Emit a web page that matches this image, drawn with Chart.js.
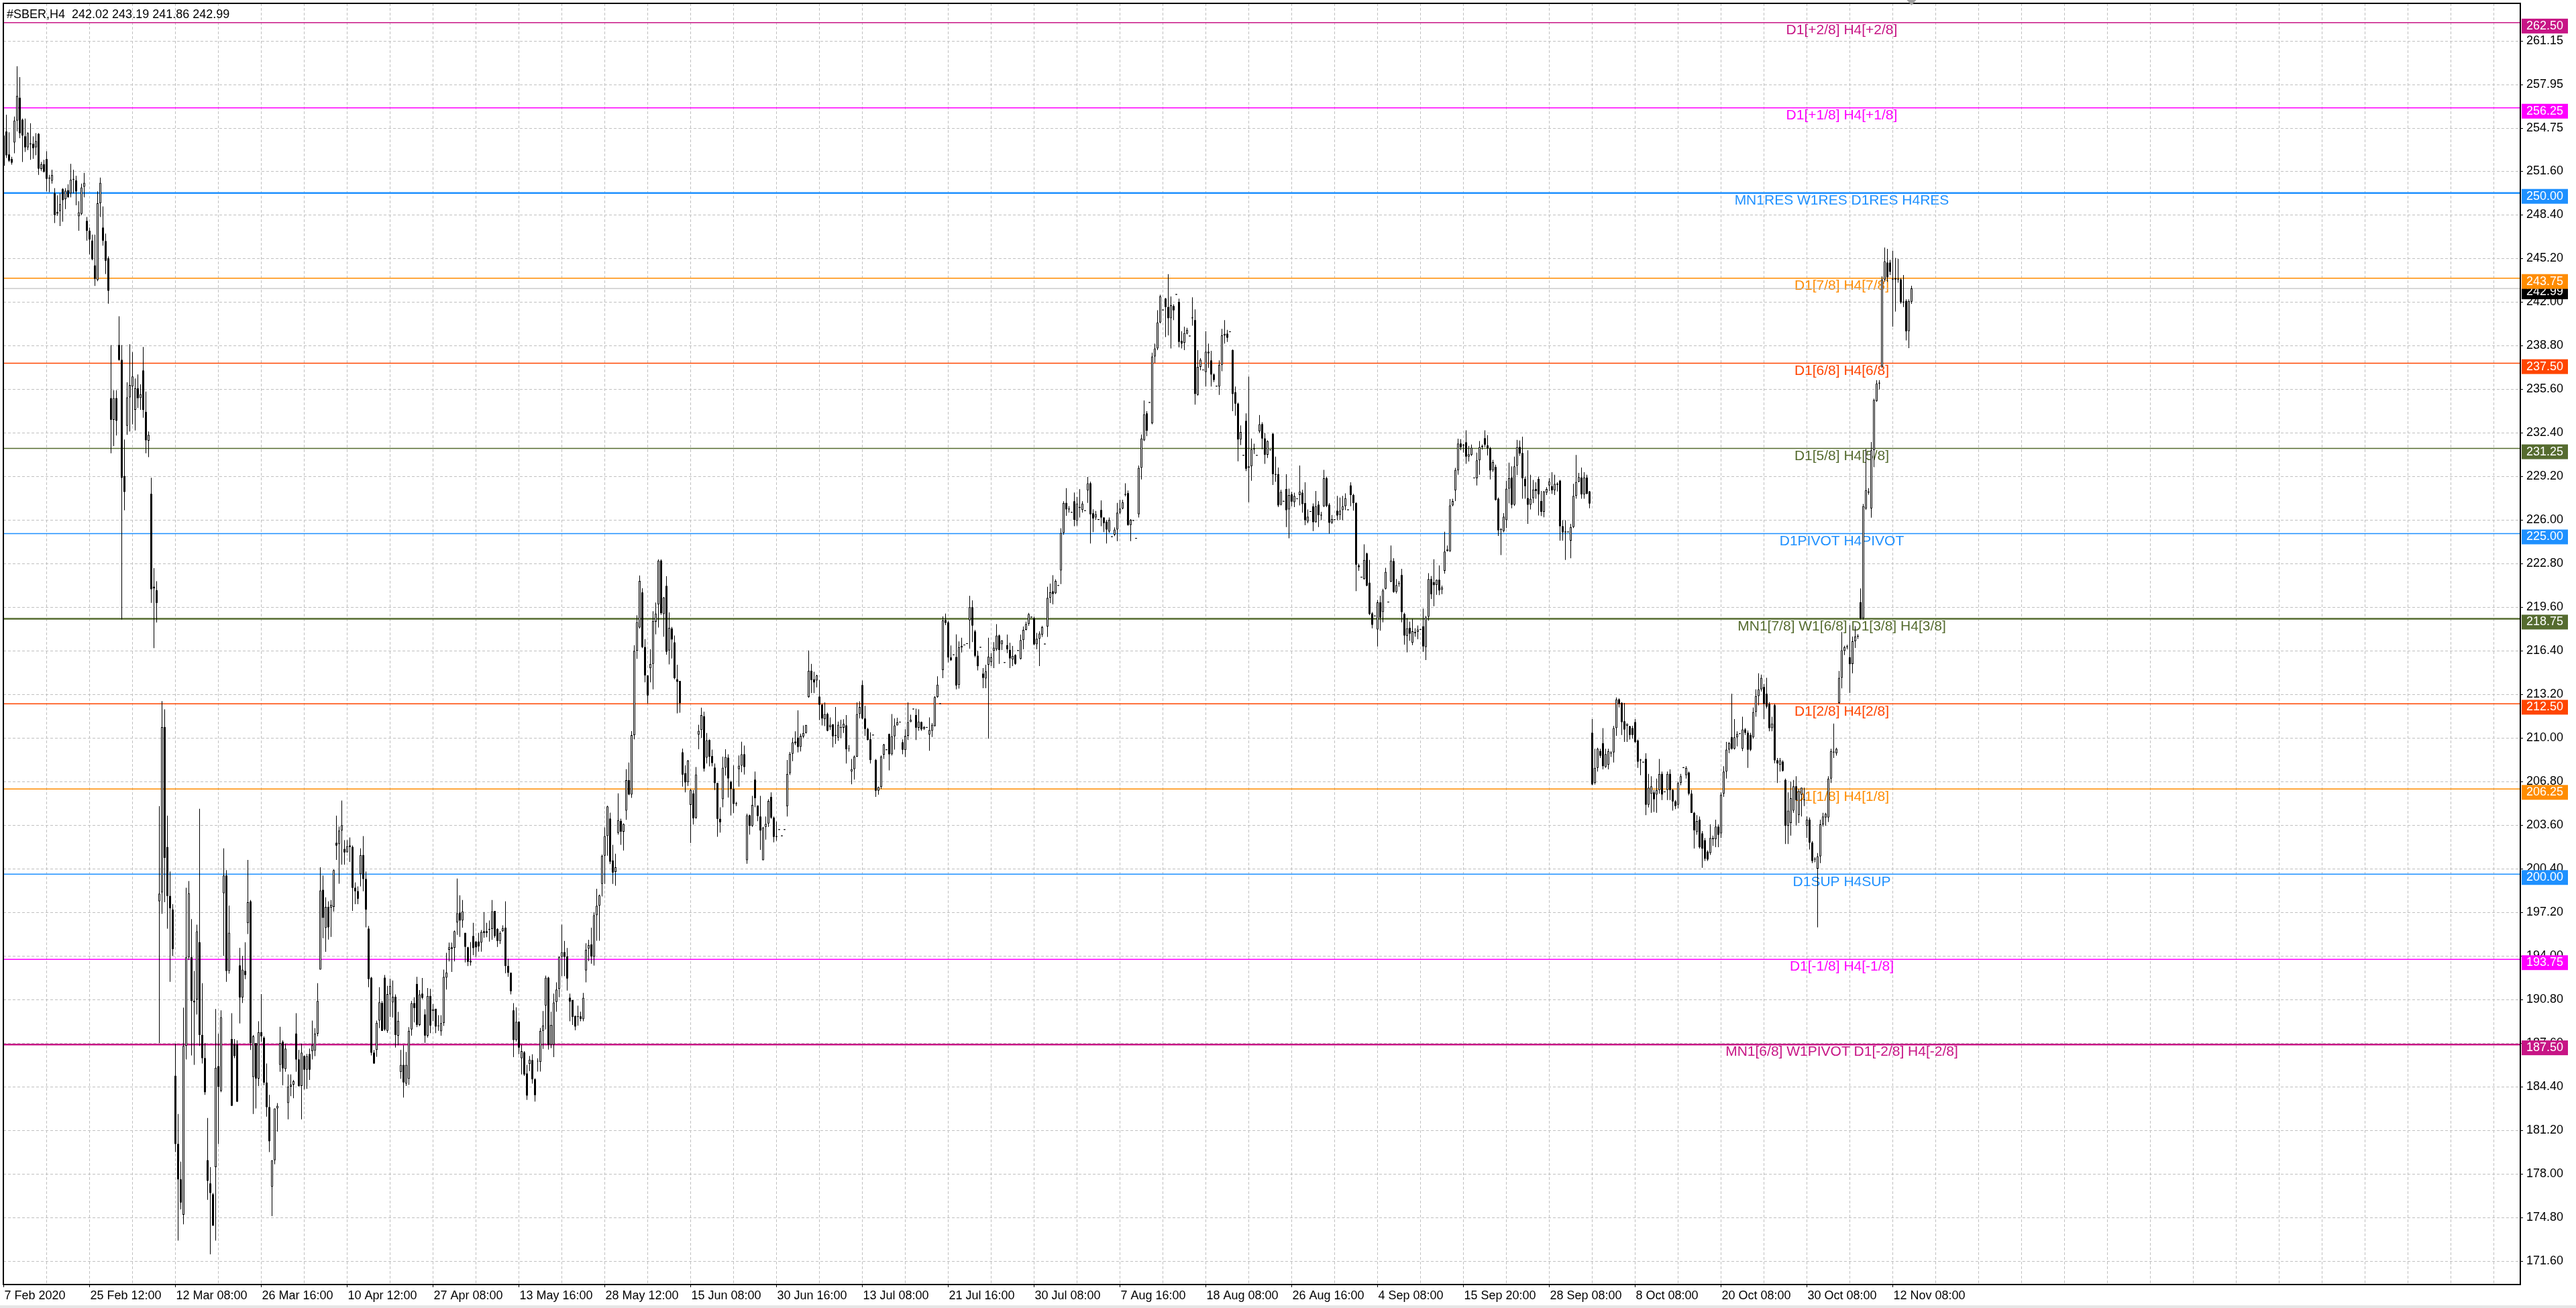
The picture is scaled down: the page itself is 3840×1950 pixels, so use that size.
<!DOCTYPE html>
<html>
<head>
<meta charset="utf-8">
<title>#SBER,H4</title>
<script src="https://cdn.jsdelivr.net/npm/chart.js@4.4.1/dist/chart.umd.min.js"></script>
<style>
html,body{margin:0;padding:0;background:#fff;overflow:hidden;}
canvas{display:block;}
</style>
</head>
<body>
<canvas id="grafica" width="3840" height="1950"></canvas>
<script>

/* DATOS */

const simbolo="#SBER,H4"

const opens=[
251.99,254.51,252.83,252.49,253.70,255.32,256.99,255.38,254.16,253.35,
253.58,253.61,253.35,254.34,251.76,252.11,252.49,251.07,250.90,249.97,
248.47,248.67,250.29,249.54,250.20,249.97,250.98,250.92,248.29,248.47,
250.46,247.95,247.23,246.50,244.68,243.61,249.25,247.46,246.47,245.20,
234.94,233.35,234.94,238.84,237.75,229.22,232.92,235.00,235.81,234.08,
235.66,234.94,236.97,233.93,231.82,227.92,221.10,220.84,198.00,198.66,
210.80,201.99,198.40,197.40,185.20,180.20,177.60,175.00,187.40,193.90,
193.90,190.70,190.80,195.00,188.20,186.50,179.00,177.30,176.50,178.50,
185.90,184.10,198.60,199.90,192.90,187.90,187.50,187.50,193.30,190.95,
192.90,196.40,198.00,185.10,187.60,185.00,188.40,188.00,184.70,182.90,
177.05,179.00,182.80,186.00,187.70,185.70,183.20,184.40,184.55,188.30,
186.40,184.45,186.65,185.65,186.80,187.00,187.05,188.30,193.00,198.85,
196.05,197.60,197.55,197.60,202.30,202.20,203.20,201.85,201.60,202.10,
202.00,199.00,198.75,200.00,201.40,199.65,196.00,192.40,186.90,187.10,
189.25,190.55,192.40,188.50,191.18,190.58,191.00,188.15,185.47,186.00,
184.63,184.98,188.60,190.53,191.94,188.94,191.23,189.70,188.15,191.06,
189.95,190.12,188.85,188.47,189.07,192.40,194.45,194.63,194.58,196.46,
197.17,196.60,195.69,194.63,193.52,195.46,195.05,195.05,194.98,195.81,
195.81,195.93,195.98,197.30,195.98,195.10,195.81,196.07,193.26,192.77,
190.00,187.83,189.17,186.48,186.92,185.37,186.07,186.35,184.95,186.25,
186.21,188.50,190.35,192.40,187.48,187.48,190.62,191.58,193.93,194.28,
193.96,190.93,190.76,189.60,189.56,189.56,189.35,192.94,194.52,194.84,
193.96,196.99,197.69,199.28,201.36,202.80,204.08,201.00,200.16,203.03,
203.91,203.12,204.67,206.90,205.85,210.20,216.40,218.11,220.68,216.67,
214.59,215.12,215.44,218.53,219.80,223.02,219.09,221.16,216.42,218.03,
217.01,214.30,214.18,208.94,207.41,206.74,205.08,205.92,204.15,210.24,
210.58,211.59,208.55,209.85,208.67,207.82,206.69,204.06,205.50,207.82,
208.55,206.77,206.26,205.16,207.70,207.96,208.80,201.02,204.32,203.55,
206.94,205.04,204.23,201.02,203.47,203.72,205.67,204.15,202.79,203.25,
202.79,203.25,204.99,207.41,208.84,209.73,210.02,209.34,210.10,210.36,
213.00,214.93,214.30,214.22,213.03,212.44,211.37,211.76,210.80,211.00,
210.16,210.02,210.75,210.75,210.92,209.20,207.53,207.70,208.63,211.76,
213.88,211.43,210.66,209.90,210.19,208.38,206.13,206.40,208.77,209.11,
210.29,208.80,210.12,210.92,211.14,209.68,209.11,210.16,211.17,212.10,
211.68,210.75,211.17,210.66,210.75,210.24,210.53,210.87,213.00,212.49,
214.98,218.65,218.48,215.91,216.08,215.94,213.88,216.63,216.80,216.90,
218.63,219.59,217.82,216.03,216.63,214.72,214.36,215.37,215.56,216.39,
216.51,217.52,216.87,215.51,216.80,216.46,215.75,216.08,216.39,215.80,
217.18,217.94,218.37,218.85,218.78,216.87,217.28,217.59,216.87,218.18,
220.28,220.76,220.62,221.17,222.29,225.05,227.25,226.78,226.54,227.37,
225.94,226.90,226.73,226.66,228.16,228.69,226.49,226.18,226.01,226.73,
226.18,225.87,225.15,224.75,224.92,225.30,226.54,226.83,227.85,227.97,
225.63,225.94,224.63,226.42,229.83,231.84,233.82,234.60,233.10,238.00,
238.59,240.50,241.39,242.25,241.63,240.81,241.70,242.53,242.01,239.14,
239.00,239.67,239.48,240.81,240.67,235.18,237.23,236.99,236.85,238.23,
237.71,236.68,235.80,235.80,237.40,239.55,239.67,239.79,238.47,235.37,
234.54,231.91,230.72,233.27,229.83,229.93,231.19,230.72,232.51,233.03,
231.98,230.79,231.12,232.32,229.36,229.36,227.12,227.35,228.27,226.77,
227.88,227.30,227.53,227.83,228.00,227.24,225.89,226.60,227.00,225.84,
227.12,226.33,227.00,229.06,227.12,225.80,226.00,226.68,226.36,226.72,
227.00,226.72,228.53,227.83,227.24,222.66,221.78,221.66,223.54,221.39,
219.14,218.93,217.96,219.95,219.24,220.95,219.95,221.48,222.98,220.72,
221.31,221.96,219.10,217.48,218.08,216.99,217.78,217.78,217.94,218.19,
216.67,218.89,221.66,221.43,221.22,221.61,220.86,222.27,223.72,223.72,
227.07,228.18,229.64,231.61,231.47,231.70,230.65,230.77,229.06,229.06,
230.38,231.35,232.00,231.47,231.26,229.64,229.89,227.56,225.27,225.18,
225.98,228.30,229.11,227.12,229.99,231.35,230.91,229.01,227.60,227.12,
227.60,228.27,229.01,227.39,226.60,228.00,228.53,228.48,228.18,228.66,
228.88,225.54,225.10,225.10,224.48,225.48,227.77,228.79,229.11,227.88,
229.11,228.09,210.38,206.69,207.80,209.04,209.61,207.86,208.03,208.87,
208.94,210.72,212.83,212.57,211.22,210.89,210.86,210.72,211.16,209.81,
208.36,208.20,208.46,205.10,205.90,206.00,205.85,206.18,207.36,206.02,
206.18,207.36,206.18,205.34,205.10,206.69,207.80,207.26,207.46,205.91,
204.50,203.09,204.00,202.99,202.49,201.65,201.55,202.56,202.56,203.49,
202.99,205.91,207.53,209.14,210.05,209.21,210.05,210.29,209.21,210.62,
210.38,210.22,210.05,211.90,213.07,213.57,213.74,213.24,212.50,210.72,
212.40,208.36,208.03,208.26,206.92,203.56,203.76,204.67,206.45,204.33,
205.84,205.44,203.56,204.00,202.32,201.08,200.40,201.31,203.66,204.16,
204.16,207.02,208.94,208.87,212.57,214.41,216.38,216.67,215.92,215.42,
217.10,217.44,219.96,218.78,226.85,228.02,226.85,231.12,234.74,236.02,
237.27,243.65,244.89,244.89,243.65,243.65,243.65,243.65,241.97,242.07,
239.85,242.02
]

const highs=[
254.45,255.75,254.45,252.66,255.61,259.31,258.50,255.46,255.46,254.45,
255.12,254.16,254.39,254.39,252.28,252.43,253.06,251.33,251.71,250.35,
249.83,249.97,250.35,250.35,250.64,252.14,251.71,251.27,249.39,250.69,
251.47,248.24,247.46,246.94,246.94,250.12,251.13,249.02,247.02,245.35,
238.84,235.52,235.52,240.95,238.84,231.91,236.10,238.90,238.32,236.39,
236.68,235.95,238.70,235.43,232.49,229.10,222.46,221.50,205.00,212.70,
212.10,204.30,200.20,197.80,187.56,182.40,178.90,190.20,199.00,199.50,
196.70,192.90,196.30,204.80,192.00,187.60,182.10,178.50,176.60,190.10,
188.30,190.00,201.90,200.30,197.70,189.80,187.90,187.80,194.60,194.00,
195.00,201.05,198.10,188.20,187.60,189.20,191.20,188.10,186.10,183.80,
179.00,182.80,183.20,188.80,187.80,187.55,185.30,185.30,184.90,189.80,
187.10,187.55,186.70,186.80,187.20,189.25,188.70,192.00,200.50,199.90,
198.30,198.00,198.10,200.35,204.30,203.50,205.40,202.50,202.50,202.70,
202.10,199.40,199.10,201.90,202.80,200.20,196.20,192.45,187.10,189.25,
191.70,190.70,192.60,191.80,192.33,192.20,191.18,189.90,187.10,187.45,
186.95,188.77,190.70,190.97,192.47,191.50,192.38,190.09,191.64,191.58,
190.47,190.12,189.65,189.65,193.00,194.23,194.98,194.98,195.86,199.68,
198.45,198.10,195.69,194.67,195.02,196.43,195.10,195.69,195.90,197.22,
196.43,196.60,198.10,197.30,196.04,195.81,196.25,198.01,193.78,192.77,
190.53,190.23,189.21,187.48,187.01,186.00,186.66,186.78,185.02,186.48,
188.71,189.95,192.55,192.47,189.91,191.23,192.06,193.96,196.29,195.10,
194.58,191.23,190.76,189.60,190.35,189.91,191.28,194.93,195.19,196.07,
197.22,198.93,198.50,201.44,203.43,205.02,204.52,202.15,201.50,205.93,
204.08,203.73,207.70,208.20,210.50,216.80,219.00,221.92,220.99,217.26,
214.59,216.50,219.30,219.94,223.10,223.10,220.35,221.87,219.21,218.14,
217.52,215.37,214.18,209.22,207.99,208.38,206.26,206.18,207.87,210.97,
212.22,211.93,210.36,209.90,209.14,208.12,206.69,204.91,208.63,209.17,
208.80,206.86,207.99,205.30,208.72,209.73,209.44,204.44,204.37,205.75,
207.53,205.04,205.75,203.47,204.23,205.50,206.01,204.23,203.86,203.25,
202.79,203.25,208.38,208.97,210.02,210.49,212.02,210.32,210.92,210.95,
216.42,215.44,214.86,214.64,214.25,212.49,212.61,211.85,211.51,211.00,
212.27,211.20,211.34,211.37,211.68,209.48,208.46,208.72,212.61,212.69,
214.22,212.36,210.75,210.41,210.19,208.46,206.43,208.72,209.56,209.11,
210.32,211.76,211.43,211.48,211.14,209.90,210.63,212.61,211.71,212.10,
212.15,212.10,211.20,210.87,210.75,211.51,211.09,213.07,214.52,212.49,
218.92,219.13,218.59,216.79,216.08,217.60,217.09,217.35,216.80,216.90,
220.43,220.10,217.94,216.39,216.63,215.13,215.37,217.35,216.22,217.04,
218.35,217.59,217.18,215.51,217.59,216.99,216.75,216.15,216.39,217.59,
218.18,218.54,219.18,218.85,218.90,217.71,217.82,218.23,216.87,221.10,
221.33,221.95,221.64,221.17,225.39,227.37,228.33,227.02,226.54,228.02,
227.68,228.26,227.37,226.66,229.16,228.81,226.78,226.66,226.01,227.44,
226.18,226.01,226.18,224.75,225.46,227.25,227.49,227.49,228.69,228.16,
226.06,225.94,224.63,230.00,232.27,234.77,233.99,234.60,238.28,238.95,
241.39,242.53,241.39,242.29,244.04,242.41,241.82,242.53,242.25,239.86,
240.19,240.10,239.48,242.34,241.46,238.47,237.88,236.99,239.86,238.95,
238.42,236.75,235.80,237.71,240.03,240.67,239.96,239.79,238.52,235.80,
234.61,232.94,230.72,233.82,236.52,231.98,231.60,230.72,233.70,233.17,
232.39,231.84,231.12,232.39,230.65,229.85,228.23,227.35,229.36,228.30,
228.06,228.00,227.53,230.00,228.23,228.76,226.77,226.60,227.21,228.13,
227.39,226.60,229.68,229.18,227.24,226.36,226.00,227.77,227.65,227.77,
227.95,226.72,228.76,227.92,227.30,222.80,221.78,224.21,223.60,223.07,
219.24,218.93,220.13,220.43,220.95,222.49,219.95,224.13,223.19,221.66,
221.52,222.42,219.19,218.79,218.54,218.75,218.05,218.26,217.94,219.50,
218.96,222.10,221.89,223.12,221.61,222.66,221.18,225.13,224.13,227.53,
227.56,229.82,231.97,231.93,231.58,232.58,231.44,231.53,229.06,230.95,
231.79,231.53,232.58,232.23,231.35,230.42,230.06,227.65,225.41,226.50,
228.88,230.20,229.94,230.65,231.88,231.83,232.11,229.18,231.12,229.32,
228.94,228.76,229.18,228.13,228.13,228.41,229.06,229.50,229.32,228.76,
228.94,225.98,225.98,225.10,225.71,228.65,230.77,229.46,229.85,229.50,
229.32,228.13,211.39,209.21,209.28,209.21,210.72,209.21,209.21,209.04,
210.88,212.97,212.90,212.63,212.57,211.05,210.89,210.89,211.39,209.88,
208.46,208.20,208.87,207.36,207.19,206.18,207.02,208.46,207.53,206.02,
207.53,207.69,206.25,205.44,206.79,207.36,207.80,207.93,207.53,206.18,
204.57,204.33,204.23,203.16,202.66,201.75,203.66,202.83,204.00,203.66,
206.01,207.93,209.71,209.71,213.24,211.39,210.49,210.29,211.56,210.72,
210.55,210.38,212.23,213.57,214.75,214.65,213.97,214.41,212.63,211.56,
212.50,208.53,208.53,208.36,207.02,206.01,206.79,206.92,207.19,206.25,
206.35,206.35,204.23,204.16,202.42,201.24,201.55,204.00,204.50,204.50,
207.19,209.21,211.05,209.28,214.92,217.78,216.77,216.84,218.28,217.44,
218.21,217.61,220.97,227.18,231.22,228.33,231.72,234.91,236.26,236.26,
243.88,246.00,245.90,245.09,245.77,245.23,245.16,243.75,243.98,242.20,
242.20,243.19
]

const lows=[
251.91,252.57,252.28,252.08,252.92,254.51,254.02,252.28,253.01,253.15,
252.43,252.51,252.77,251.33,251.62,251.50,250.12,250.06,250.69,247.80,
248.32,247.57,247.89,248.82,249.68,249.68,249.97,249.10,247.23,248.38,
249.68,246.50,245.49,245.06,243.18,243.53,248.24,246.13,244.05,241.88,
230.90,231.42,232.20,237.69,218.70,226.71,232.25,232.49,233.01,232.57,
234.22,234.08,233.50,230.90,230.61,219.91,216.59,218.47,187.60,197.10,
197.95,196.00,192.10,194.00,179.60,173.10,175.40,174.30,186.40,193.70,
186.70,186.00,189.70,187.40,186.10,183.80,176.10,172.10,174.20,173.10,
180.20,184.00,194.00,192.10,192.70,183.00,186.50,183.30,189.05,190.55,
192.30,195.60,187.10,182.40,182.80,184.45,187.70,184.50,182.20,179.60,
174.90,178.70,181.10,185.50,184.50,185.50,182.00,183.70,183.55,185.50,
184.40,182.00,184.20,184.25,184.90,186.40,186.65,188.10,193.00,195.30,
194.30,195.20,195.40,197.25,201.05,199.30,200.70,200.70,201.60,200.90,
197.30,197.80,197.80,199.10,198.75,196.10,191.70,186.70,186.10,186.60,
188.70,188.50,188.50,188.35,189.52,189.47,187.27,187.45,184.98,183.60,
184.45,184.54,188.15,189.12,188.77,188.85,190.83,187.62,188.01,188.33,
189.20,188.33,188.50,188.15,188.86,191.53,193.60,192.82,193.60,195.55,
195.40,196.07,193.52,193.26,193.29,194.05,193.93,194.31,194.31,195.33,
195.37,195.05,195.19,195.33,194.66,194.88,195.76,192.73,192.47,191.18,
186.57,187.71,186.78,185.30,185.19,183.43,185.55,184.63,183.31,185.51,
185.51,187.18,188.60,187.13,187.23,186.57,189.91,190.97,192.52,192.52,
191.46,189.21,188.94,188.54,188.89,189.21,189.21,192.06,193.61,193.43,
193.29,195.11,195.11,198.36,199.28,201.36,200.74,199.28,199.15,202.90,
202.15,201.74,203.99,205.80,205.60,209.90,215.80,218.03,216.59,214.08,
212.53,214.08,213.57,217.60,218.11,219.04,217.43,216.11,215.40,215.83,
214.30,211.81,211.85,206.43,206.01,206.47,202.29,203.64,204.06,209.17,
209.99,207.53,208.12,207.92,207.92,206.18,202.74,203.05,204.91,207.24,
205.62,204.31,204.49,205.00,206.43,207.48,207.31,200.76,202.91,203.47,
204.91,203.89,201.78,201.02,202.54,203.47,204.06,202.34,202.45,203.25,
202.79,203.25,204.23,207.28,208.29,209.48,208.94,209.01,209.99,210.33,
212.95,213.29,213.29,213.71,211.31,210.92,210.87,210.49,210.58,209.31,
209.56,209.78,209.99,210.36,208.12,209.00,206.60,206.94,208.60,211.43,
211.37,210.16,209.82,208.12,210.19,205.67,205.84,206.26,208.46,209.11,
207.62,208.72,209.14,210.92,211.14,208.80,208.60,209.85,211.17,212.10,
209.85,210.53,210.53,210.58,210.75,209.06,210.07,210.83,212.95,212.49,
214.39,218.28,215.54,215.66,216.08,213.57,213.63,216.27,216.80,216.90,
216.56,217.04,215.91,214.96,216.63,213.65,213.65,209.95,215.27,215.13,
216.39,215.44,216.46,215.51,216.22,215.13,215.27,215.37,216.39,215.75,
216.51,217.90,218.23,218.85,216.80,216.51,215.27,217.42,216.87,217.42,
219.90,219.81,220.57,221.17,221.29,224.91,226.30,226.54,226.54,225.54,
225.58,226.18,226.54,226.66,227.25,224.27,225.11,226.01,226.01,225.54,
225.11,224.27,225.06,224.75,224.82,224.44,226.42,226.78,227.73,225.58,
224.44,225.94,224.63,226.18,228.97,231.79,232.15,234.60,233.03,237.52,
238.47,240.43,241.39,239.43,239.55,238.59,240.67,242.53,238.67,238.59,
238.47,239.62,239.48,240.26,234.46,235.13,236.99,236.99,235.80,237.16,
235.80,236.13,235.80,235.18,236.92,238.95,239.07,239.79,233.99,233.65,
230.31,231.50,230.72,229.59,227.30,228.88,230.84,230.72,232.39,231.19,
230.12,230.55,231.12,228.57,228.80,226.94,227.07,227.35,225.48,224.65,
227.00,226.94,227.53,227.07,226.54,225.62,225.76,226.60,225.18,225.80,
225.48,225.98,226.94,226.94,225.00,225.71,226.00,225.98,226.01,225.98,
226.72,226.72,227.00,226.68,220.78,222.27,221.78,221.61,221.13,219.02,
218.05,218.93,216.72,217.87,218.49,220.90,219.95,221.43,220.65,220.60,
221.10,218.49,216.85,216.28,217.13,216.81,217.43,217.25,217.94,216.32,
215.72,218.61,220.20,219.67,220.51,220.48,220.55,222.06,223.68,223.65,
227.00,227.39,229.32,231.12,230.95,230.12,230.29,230.70,229.06,228.53,
229.32,231.17,231.35,230.73,228.97,229.53,227.42,224.83,223.42,225.10,
225.41,227.21,226.86,227.03,229.29,230.70,227.56,227.56,225.71,226.77,
227.24,227.56,226.33,226.29,226.19,227.83,228.13,227.92,227.83,228.09,
224.48,224.48,223.07,225.10,223.19,225.41,227.56,228.76,227.56,227.56,
227.88,226.86,206.53,206.59,207.53,208.53,207.69,207.80,207.69,208.60,
208.20,210.15,212.23,210.22,209.71,209.71,209.88,209.95,209.61,207.80,
207.26,208.20,204.33,204.90,204.50,204.57,204.50,205.91,205.44,206.02,
205.44,205.44,204.67,204.77,204.84,206.52,207.80,207.02,205.78,204.50,
201.88,202.89,201.88,200.47,200.97,200.97,201.41,202.08,201.98,201.98,
202.66,205.68,207.02,208.87,209.14,209.14,209.38,210.29,209.04,210.22,
207.80,209.04,209.95,211.56,212.40,213.40,211.39,212.16,210.49,210.49,
208.13,206.69,207.53,207.53,202.22,202.22,202.83,204.50,203.56,203.76,
204.23,205.00,202.66,201.81,200.81,200.87,196.10,200.81,203.49,203.56,
203.83,206.69,208.53,208.70,212.50,213.64,216.09,216.50,213.30,214.75,
216.60,217.27,218.68,218.68,226.75,227.85,226.17,229.87,234.68,235.58,
237.16,243.48,243.48,243.98,240.19,241.30,243.41,241.87,241.63,239.18,
238.61,241.86
]

const closes=[
254.22,252.77,252.37,252.23,255.32,257.14,254.39,254.22,253.35,254.39,
253.58,253.29,253.82,251.79,252.11,251.56,251.04,251.07,251.33,248.38,
248.61,249.19,249.48,250.17,249.68,250.98,250.98,250.12,248.58,250.40,
250.75,247.23,246.59,245.14,243.70,249.25,250.75,246.50,245.03,242.83,
233.35,234.94,233.29,237.75,229.10,228.06,235.00,235.90,236.53,235.66,
234.94,235.23,234.08,231.85,232.25,220.92,220.98,219.91,198.57,210.80,
201.20,198.40,197.50,194.50,180.20,177.60,175.90,187.40,193.90,198.60,
190.70,190.60,195.80,188.20,186.50,184.00,177.50,176.60,174.20,185.80,
184.40,189.50,199.90,192.90,195.70,183.00,186.65,183.30,190.95,193.00,
192.60,197.95,187.60,188.10,185.00,188.40,188.10,184.70,182.90,180.40,
179.00,182.80,183.00,187.60,185.75,187.20,184.40,184.55,184.80,186.40,
184.45,186.90,185.65,186.65,185.65,187.45,188.30,190.70,198.80,196.80,
197.60,196.10,197.75,200.30,202.10,203.20,203.60,201.60,202.05,202.00,
199.00,198.75,198.20,201.40,199.65,197.40,192.30,186.90,186.10,189.10,
190.60,188.50,188.60,191.20,191.80,191.00,188.20,189.24,186.00,184.72,
186.00,188.50,190.53,190.18,188.94,191.18,190.93,188.15,191.06,188.89,
190.09,188.82,188.90,189.07,192.47,192.77,194.63,194.52,195.81,197.13,
196.60,197.27,194.67,193.57,193.65,194.58,194.63,194.70,195.76,195.69,
195.69,195.98,197.27,195.46,195.10,195.69,196.04,193.26,192.77,191.41,
187.83,189.17,187.27,187.01,185.30,183.75,186.39,184.95,183.78,186.30,
188.50,188.89,192.40,187.48,188.94,190.58,191.53,193.93,194.28,193.93,
192.34,190.65,189.52,188.82,189.52,189.38,190.93,194.45,194.80,193.96,
196.99,197.69,198.45,201.36,202.80,204.97,200.92,200.12,200.51,203.96,
203.12,203.68,206.90,205.85,210.20,216.40,218.50,221.53,216.67,214.59,
213.12,215.44,218.59,219.13,223.02,219.16,220.31,216.33,218.08,217.23,
214.39,214.13,212.56,207.31,206.74,208.33,206.18,204.10,207.31,210.53,
211.68,207.75,209.82,208.63,208.16,206.69,204.06,203.81,207.82,208.60,
207.03,206.26,205.16,205.16,207.96,208.80,207.87,204.32,203.55,205.08,
205.58,204.27,203.21,203.42,203.69,205.38,204.15,202.74,202.74,203.25,
202.79,203.25,207.36,208.84,209.68,209.61,209.34,210.16,210.36,210.95,
214.93,214.25,214.08,214.59,212.44,211.43,211.76,210.53,210.97,210.12,
210.16,210.97,210.75,211.04,209.17,209.22,207.70,208.63,211.76,212.27,
211.43,210.66,209.85,208.38,210.19,206.13,206.40,208.63,209.51,209.11,
208.80,210.12,210.92,211.14,211.14,209.14,210.16,211.17,211.34,212.10,
210.75,211.20,210.63,210.80,210.75,210.58,210.97,213.00,213.91,212.49,
218.62,218.45,215.91,215.71,216.08,213.85,216.67,216.75,216.80,216.90,
219.59,218.25,216.03,215.27,216.63,214.41,214.89,215.96,215.91,216.63,
217.52,216.46,217.16,215.51,216.51,215.84,216.03,215.44,216.39,217.18,
217.94,218.37,219.09,218.85,216.87,217.28,217.66,218.13,216.87,220.28,
220.69,220.57,221.53,221.17,225.05,227.25,226.78,226.78,226.54,226.01,
227.20,226.90,227.20,226.66,228.69,226.42,226.11,226.42,226.01,226.18,
225.77,225.30,226.01,224.75,225.30,226.54,226.83,227.30,227.85,225.63,
226.01,225.94,224.63,229.83,231.98,233.75,232.55,234.60,238.00,238.59,
240.50,242.41,241.39,241.63,240.81,241.77,241.39,242.53,239.07,238.95,
239.72,239.96,239.48,240.81,235.25,237.23,237.76,236.99,238.35,238.35,
236.68,236.28,235.80,237.40,239.55,239.67,239.38,239.79,235.25,234.54,
231.91,232.46,230.72,229.76,229.93,231.19,231.19,230.72,233.03,231.98,
230.79,231.79,231.12,229.36,229.32,227.07,228.06,227.35,226.72,227.83,
227.35,227.77,227.53,228.09,227.17,225.98,226.24,226.60,225.84,227.00,
226.36,226.33,229.06,227.03,225.80,226.06,226.00,226.33,226.68,227.00,
227.60,226.72,227.83,227.24,222.72,222.54,221.78,223.07,221.18,219.10,
218.31,218.93,219.95,218.84,220.83,222.19,219.95,223.02,220.72,221.22,
221.31,219.24,217.52,218.05,217.66,217.83,217.69,217.96,217.94,216.72,
218.84,221.66,220.55,221.22,221.61,220.83,221.04,223.68,223.83,227.07,
227.39,229.68,231.61,231.35,231.47,230.65,230.82,231.30,229.06,230.38,
231.35,231.44,231.53,231.26,229.64,230.24,227.47,225.24,225.27,226.24,
228.30,229.06,227.12,229.94,231.35,230.88,229.06,228.48,227.12,227.56,
228.23,228.13,227.88,226.60,228.09,228.27,228.83,228.18,228.66,228.59,
225.54,225.10,225.10,225.10,225.48,227.77,228.79,229.15,227.88,229.11,
227.92,227.21,206.59,207.80,209.21,208.70,207.93,208.81,209.04,208.87,
210.72,212.83,212.50,211.16,210.62,211.05,210.22,210.22,209.71,208.26,
208.36,208.20,205.10,206.35,206.45,205.50,206.18,207.36,205.85,206.02,
207.36,206.18,205.34,205.00,206.69,207.19,207.80,207.80,205.91,204.50,
203.22,203.90,201.98,201.88,201.14,201.08,202.66,202.66,203.49,202.89,
205.84,207.53,209.14,209.61,209.21,210.05,210.29,210.29,210.62,210.38,
209.14,209.14,211.90,213.07,213.57,214.41,212.50,212.30,210.72,211.05,
208.36,208.13,208.36,207.59,203.56,204.67,205.57,206.45,205.44,206.11,
206.35,205.44,204.00,202.32,200.97,201.08,201.31,203.66,204.23,204.43,
207.02,209.04,208.94,209.21,214.41,216.43,216.67,216.67,215.42,217.10,
217.44,217.44,218.78,227.00,228.19,228.02,231.12,234.81,236.02,236.02,
243.65,244.99,243.82,244.22,243.65,243.75,243.65,241.97,241.97,239.85,
242.07,242.99
]

const etiquetasTiempo=["7 Feb 2020","25 Feb 12:00","12 Mar 08:00","26 Mar 16:00","10 Apr 12:00","27 Apr 08:00","13 May 16:00","28 May 12:00","15 Jun 08:00","30 Jun 16:00","13 Jul 08:00","21 Jul 16:00","30 Jul 08:00","7 Aug 16:00","18 Aug 08:00","26 Aug 16:00","4 Sep 08:00","15 Sep 20:00","28 Sep 08:00","8 Oct 08:00","20 Oct 08:00","30 Oct 08:00","12 Nov 08:00"]

const ticksPrecio=[171.60,174.80,178.00,181.20,184.40,187.60,190.80,194.00,197.20,200.40,203.60,206.80,210.00,213.20,216.40,219.60,222.80,226.00,229.20,232.40,235.60,238.80,242.00,245.20,248.40,251.60,254.75,257.95,261.15]

const niveles=[262.50,256.25,250.00,243.75,237.50,231.25,225.00,218.75,212.50,206.25,200.00,193.75,187.50]

const nombresNiveles=["D1[+2/8] H4[+2/8]","D1[+1/8] H4[+1/8]","MN1RES W1RES D1RES H4RES","D1[7/8] H4[7/8]","D1[6/8] H4[6/8]","D1[5/8] H4[5/8]","D1PIVOT H4PIVOT","MN1[7/8] W1[6/8] D1[3/8] H4[3/8]","D1[2/8] H4[2/8]","D1[1/8] H4[1/8]","D1SUP H4SUP","D1[-1/8] H4[-1/8]","MN1[6/8] W1PIVOT D1[-2/8] H4[-2/8]"]

const bid=242.99

/* ESTILOS */

const coloresNiveles=["#C71585","#FF00FF","#1E90FF","#FF8C00","#FF4500","#556B2F","#1E90FF","#556B2F","#FF4500","#FF8C00","#1E90FF","#FF00FF","#C71585"]
const anchosNiveles=[1.5,1.5,2.5,1.5,1.5,1.5,1.5,2.5,1.5,1.5,1.5,1.5,2.5]

const X_MIN=-0.125
const X_MAX=937.875
const Y_MIN=169.88
const Y_MAX=263.92
const BARRA_TEXTO=685
const FUENTE='"Liberation Sans", Arial, sans-serif'

Chart.defaults.font.family=FUENTE
Chart.defaults.font.size=18
Chart.defaults.color="#000"

/* VELAS */

const indices=opens.map((o,i)=>i)

const mechas=indices.map(i=>({x:i,y:[lows[i],highs[i]]}))
const alcistas=indices.filter(i=>closes[i]>opens[i]).map(i=>({x:i,y:[opens[i],closes[i]]}))
const bajistas=indices.filter(i=>closes[i]<=opens[i]).map(i=>({x:i,y:[closes[i],opens[i]]}))

const barra={type:"bar",grouped:false,borderSkipped:false,inflateAmount:0,minBarLength:1}

const lineasNiveles=niveles.map((v,k)=>({
type:"line",
data:[{x:X_MIN,y:v},{x:X_MAX,y:v}],
borderColor:coloresNiveles[k],
borderWidth:anchosNiveles[k],
pointRadius:0,
order:10
}))

let lineasGrid=[]
for(let v=0;v<=X_MAX;v+=16) lineasGrid.push(v)

/* TEXTOS Y MARCO */

const extras={
id:"extras",
beforeDatasetsDraw(chart){
const {ctx,scales:{x,y}}=chart
ctx.save()
ctx.font='21px '+FUENTE
ctx.textAlign="center"
ctx.textBaseline="top"
niveles.forEach((v,k)=>{
ctx.fillStyle=coloresNiveles[k]
ctx.fillText(nombresNiveles[k],x.getPixelForValue(BARRA_TEXTO),y.getPixelForValue(v)+1)
})
ctx.restore()
},
afterDraw(chart){
const {ctx,chartArea:a,scales:{x,y}}=chart
const n=opens.length-1
ctx.save()

ctx.strokeStyle="#000"
ctx.lineWidth=2
ctx.strokeRect(a.left,a.top,a.right-a.left,a.bottom-a.top)

ctx.font='18px '+FUENTE
ctx.fillStyle="#000"
ctx.textBaseline="alphabetic"
ctx.textAlign="left"
ctx.fillText(simbolo+"  "+[opens[n],highs[n],lows[n],closes[n]].map(v=>v.toFixed(2)).join(" "),10,27)

const caja=(v,fondo)=>{
const py=y.getPixelForValue(v)
ctx.fillStyle=fondo
ctx.fillRect(y.left+2,py-6,69,22)
ctx.fillStyle="#fff"
ctx.textBaseline="middle"
ctx.fillText(v.toFixed(2),y.left+9,py+5)
}
caja(bid,"#000")
niveles.forEach((v,k)=>caja(v,coloresNiveles[k]))

const px=x.getPixelForValue(n)
ctx.fillStyle="#A0A0A0"
ctx.beginPath()
ctx.moveTo(px-7,0)
ctx.lineTo(px+7,0)
ctx.lineTo(px,8)
ctx.closePath()
ctx.fill()

ctx.fillStyle="#E6E6E6"
ctx.fillRect(0,1946,3840,4)
ctx.restore()
}
}

/* GRAFICA */

new Chart(document.getElementById("grafica"),{
type:"bar",
data:{
datasets:[
...lineasNiveles,
{type:"line",data:[{x:X_MIN,y:bid},{x:X_MAX,y:bid}],borderColor:"#B0B0B0",borderWidth:1,pointRadius:0,order:9},
{...barra,data:mechas,barThickness:1,backgroundColor:"#000",borderWidth:0,order:2},
{...barra,data:bajistas,barThickness:3,backgroundColor:"#000",borderWidth:0,order:1},
{...barra,data:alcistas,barThickness:3,backgroundColor:"#fff",borderColor:"#000",borderWidth:1,order:1}
]
},
options:{
responsive:false,
animation:false,
devicePixelRatio:1,
layout:{padding:{left:5,top:5,right:0,bottom:0}},
plugins:{legend:{display:false},tooltip:{enabled:false}},
events:[],
scales:{
x:{
type:"linear",
min:X_MIN,
max:X_MAX,
offset:false,
afterBuildTicks:s=>{s.ticks=lineasGrid.map(v=>({value:v}))},
afterFit:s=>{s.height=35;s.paddingLeft=0;s.paddingRight=0},
ticks:{
autoSkip:false,
maxRotation:0,
minRotation:0,
align:"start",
labelOffset:1,
padding:2,
color:"#000",
font:{size:18},
callback:v=>(v%32===0&&etiquetasTiempo[v/32])?etiquetasTiempo[v/32]:""
},
grid:{
color:"#C0C0C0",
lineWidth:1,
offset:false,
tickLength:4,
tickWidth:1,
tickColor:c=>(c.tick&&c.tick.value%32===0&&c.tick.value<=704)?"#000":"rgba(0,0,0,0)"
},
border:{color:"#000",width:2,dash:[4,3]}
},
y:{
type:"linear",
position:"right",
min:Y_MIN,
max:Y_MAX,
afterBuildTicks:s=>{s.ticks=ticksPrecio.map(v=>({value:v}))},
afterFit:s=>{s.width=83;s.paddingTop=0;s.paddingBottom=0},
ticks:{
autoSkip:false,
padding:5,
color:"#000",
font:{size:18},
callback:v=>v.toFixed(2)
},
grid:{
color:"#C0C0C0",
lineWidth:1,
tickLength:4,
tickColor:"#000"
},
border:{color:"#000",width:2,dash:[4,3]}
}
}
},
plugins:[extras]
})

</script>
</body>
</html>
